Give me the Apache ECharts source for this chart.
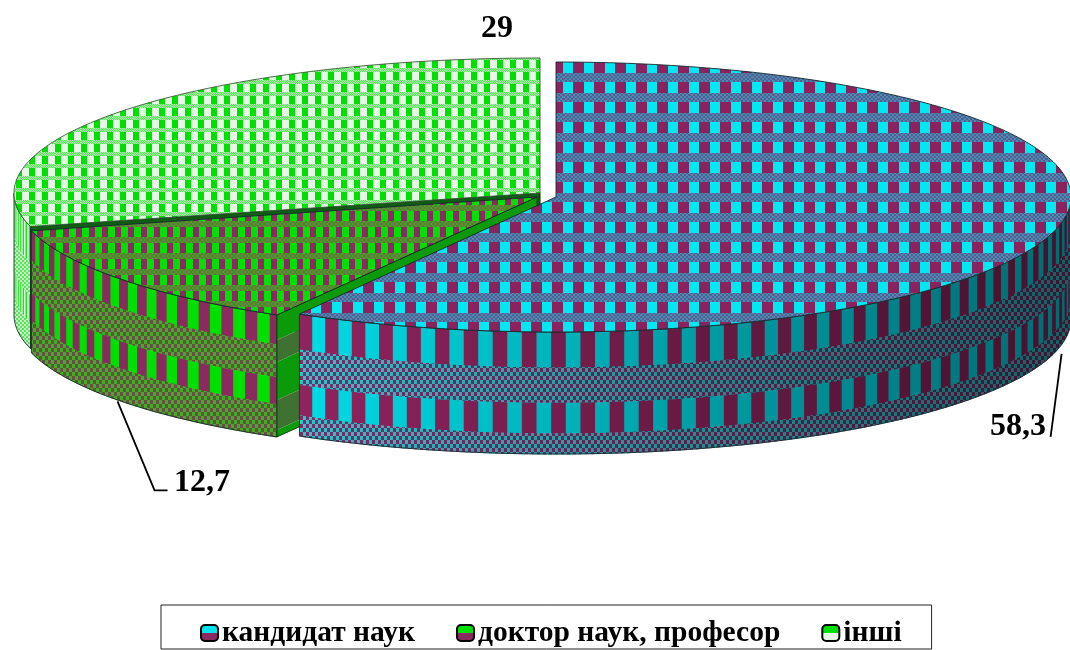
<!DOCTYPE html>
<html><head><meta charset="utf-8">
<style>html,body{margin:0;padding:0;background:#fff}#c{width:1070px;height:650px}</style>
<script src="https://cdn.jsdelivr.net/npm/echarts@6/dist/echarts.min.js"></script>
</head><body><div id="c"></div>
<script>
const categories = ['кандидат наук', 'доктор наук, професор', 'інші'];
const values = [58.3, 12.7, 29];
const valueLabels = ['58,3', '12,7', '29'];

const SERIF = '"Liberation Serif","Times New Roman",serif';
const DEPTH = 122;
const geom = [
  {cx:556, cy:197, rx:515, ry:135},
  {cx:537, cy:197, rx:522, ry:136},
  {cx:540, cy:193, rx:526, ry:135}
];
function tile(w,h,fn){
  const c=document.createElement('canvas');c.width=w;c.height=h;
  const g=c.getContext('2d');
  for(let y=0;y<h;y++)for(let x=0;x<w;x++){g.fillStyle=fn(x,y);g.fillRect(x,y,1,1);}
  return {image:c,repeat:'repeat'};
}
function mod(a,b){return ((a%b)+b)%b;}
function plaid(W,H,cw,ch,ox,oy,a,b,d1,d2,ds){
  return tile(W,H,(x,y)=>{
    const X=mod(x-ox,W),Y=mod(y-oy,H);
    if(Y<ch) return X<cw?a:b;
    return (Math.floor(X/ds)+Math.floor(Y/ds))%2?d1:d2;
  });
}
function dither(w,h,a,b){return tile(w,h,(x,y)=>((x<w/2)!==(y<h/2))?a:b);}

const styles = [
 { top:plaid(21,20,10,11,17,2,'#00e8f0','#8a2260','#3f90b2','#5f5a92',2),
   a:'#00dde6', b:'#90245e', dith:dither(6,8,'#30c4cc','#7a2e6a'),
   stripe:1.63, rows:[.29,.29,.25,.17], shade:true },
 { top:plaid(13,16,7,10,4,3,'#00e000','#8a2a5e','#4a9a2c','#5f7a36',2),
   a:'#00e000', b:'#8a2a5e', dith:dither(6,8,'#3fae22','#6a4e48'),
   stripe:1.6, rows:[.24,.27,.22,.27] },
 { top:plaid(13,12,6,8,3,0,'#00e000','#e8f6e8','#5fe55f','#a8eea8',1),
   a:'#22e022', b:'#e6f6e6', dith:dither(4,4,'#5fe05f','#c0f0c0'),
   stripe:.8, rows:[.3,.27,.22,.21] }
];
function pt(g,deg,dy){const r=deg*Math.PI/180;return [g.cx+g.rx*Math.sin(r), g.cy-g.ry*Math.cos(r)+(dy||0)];}
function arc(g,a0,a1,dy){
  const n=Math.max(2,Math.ceil(Math.abs(a1-a0)/1.0)),o=[];
  for(let i=0;i<=n;i++)o.push(pt(g,a0+(a1-a0)*i/n,dy));
  return o;
}
function band(g,a0,a1,d0,d1){return arc(g,a0,a1,d0).concat(arc(g,a1,a0,d1));}
function poly(points,fill,stroke,lw,opacity){
  const style={fill:fill};
  if(stroke){style.stroke=stroke;style.lineWidth=lw||1;style.lineJoin='round';}
  else style.stroke=null;
  if(opacity!=null)style.opacity=opacity;
  return {type:'polygon',silent:true,shape:{points:points},style:style};
}
function wall(ch,g,s,a0,a1){
  if(a1<=a0)return;
  let d=0;
  s.rows.forEach((f,ri)=>{
    const d1=ri===s.rows.length-1?DEPTH:d+f*DEPTH;
    if(ri%2===0){
      ch.push(poly(band(g,a0,a1,d,d1+.5),s.a));
      let i=0;
      for(let a=a1;a>a0;a-=s.stripe,i++){
        if(i%2===0) ch.push(poly(band(g,Math.max(a0,a-s.stripe),a,d,d1+.5),s.b));
      }
    } else {
      ch.push(poly(band(g,a0,a1,d,d1+.5),s.dith));
    }
    d=d1;
  });
  if(s.shade){
    ch.push(poly(band(g,a0,a1,0,DEPTH),{type:'linear',x:295,y:0,x2:1070,y2:0,global:true,
      colorStops:[{offset:0,color:'rgba(0,0,0,0)'},{offset:.5,color:'rgba(0,0,0,.28)'},{offset:1,color:'rgba(0,0,0,.52)'}]}));
  }
  ch.push(poly(band(g,a0,a1,0,DEPTH),'rgba(0,0,0,0)','#1c2e2e',.9));
}
function cutFace(ch,g,deg){
  const A=[g.cx,g.cy],R=pt(g,deg);
  const fr=[[0,25,'#0a9a0a'],[25,47,'#3f7232'],[47,85,'#0a9a0a'],[85,115,'#3f7232'],[115,DEPTH,'#0a9a0a']];
  fr.forEach(r=>ch.push(poly([[A[0],A[1]+r[0]],[R[0],R[1]+r[0]],[R[0],R[1]+r[1]],[A[0],A[1]+r[1]]],r[2])));
  ch.push(poly([A,R,[R[0],R[1]+DEPTH],[A[0],A[1]+DEPTH]],'rgba(0,0,0,0)','#0a3a0a',.9));
}
function sliceItem(idx){
  return function(params,api){
    const start=api.value(0),val=api.value(1);
    const a0=start*3.6,a1=(start+val)*3.6,g=geom[idx],s=styles[idx],ch=[];
    // back cut face of the "інші" slice, seen as a thin dark band
    if(idx===2){
      const A=[g.cx,g.cy],R=pt(g,a0);
      ch.push(poly([A,R,[R[0],R[1]+DEPTH],[A[0],A[1]+DEPTH]],'#0f5c14','#062a06',1));
    }
    wall(ch,g,s,Math.max(a0,90),Math.min(a1,270));
    if(idx===1) cutFace(ch,g,a0);
    const topPts=[[g.cx,g.cy]].concat(arc(g,a0,a1,0));
    ch.push(poly(topPts,s.top,idx===2?'#3a5a3a':'#14282c',.9));
    // value label and leader line
    const mid=pt(g,(a0+a1)/2,DEPTH);
    const lab=valueLabels[idx];
    const font='bold 32px '+SERIF;
    const line=pts=>({type:'polyline',silent:true,shape:{points:pts},style:{fill:null,stroke:'#000',lineWidth:1.8}});
    if(idx===0){
      ch.push(line([[mid[0]+8,mid[1]],[mid[0]-3,mid[1]+83]]));
      ch.push({type:'text',silent:true,x:1046,y:427,style:{text:lab,font:font,fill:'#000',align:'right',verticalAlign:'middle'}});
    } else if(idx===1){
      ch.push(line([[mid[0]-4,mid[1]],[mid[0]+33,mid[1]+89],[mid[0]+46,mid[1]+89]]));
      ch.push({type:'text',silent:true,x:174,y:483,style:{text:lab,font:font,fill:'#000',align:'left',verticalAlign:'middle'}});
    } else {
      ch.push({type:'text',silent:true,x:497,y:29,style:{text:lab,font:font,fill:'#000',align:'center',verticalAlign:'middle'}});
    }
    return {type:'group',children:ch};
  };
}
const legendFill=[['#00e4ee','#8a2a62'],['#00e000','#8a2a5e'],['#00e000','#e6f6e6']];
function iconFill(p){return {type:'linear',x:0,y:0,x2:0,y2:1,colorStops:[{offset:0,color:p[0]},{offset:.5,color:p[0]},{offset:.5,color:p[1]},{offset:1,color:p[1]}]};}
let acc=0;
const series=categories.map((name,i)=>{
  const start=acc;acc+=values[i];
  return {type:'custom',name:name,coordinateSystem:'none',z:[4,3,2][i],silent:true,animation:false,clip:false,
    itemStyle:{color:legendFill[i][0]},
    dimensions:['start','value'],
    data:[[start,values[i]]],renderItem:sliceItem(i)};
});
const chart=echarts.init(document.getElementById('c'),null,{width:1070,height:650});
chart.setOption({
  animation:false,backgroundColor:'#fff',
  legend:{
    left:161,top:605,orient:'horizontal',
    padding:[13,30,1,39],itemGap:41,itemWidth:17,itemHeight:16,
    borderColor:'#222',borderWidth:1,selectedMode:false,
    textStyle:{fontFamily:SERIF,fontWeight:'bold',fontSize:29.5,lineHeight:30,color:'#000',padding:[0,0,0,-1]},
    data:categories.map((n,i)=>({name:n,icon:'roundRect',itemStyle:{color:iconFill(legendFill[i]),borderColor:'#000',borderWidth:2}}))
  },
  series:series
});
</script></body></html>
